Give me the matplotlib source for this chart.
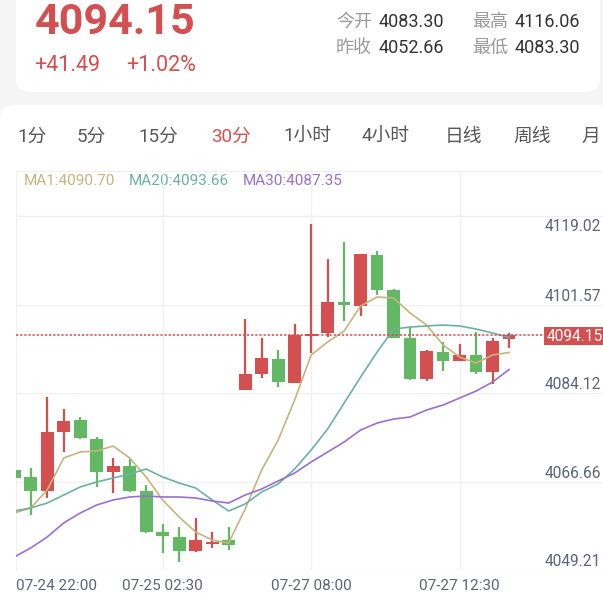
import numpy as np
import matplotlib
matplotlib.use("Agg")
import matplotlib.pyplot as plt
from matplotlib.patches import FancyBboxPatch

plt.rcParams['font.family'] = ['Roboto', 'Noto Sans CJK SC', 'DejaVu Sans']

# 30 minute candles, 07-24 22:00 onwards
opens  = [4067.52, 4066.14, 4063.38, 4075.02, 4077.38, 4073.64, 4067.13, 4068.31, 4063.38, 4055.29,
          4054.31, 4051.55, 4052.93, 4053.72, 4083.30, 4086.46, 4089.42, 4084.68, 4093.95, 4094.54,
          4100.66, 4099.87, 4109.93, 4103.03, 4093.56, 4085.47, 4090.80, 4089.02, 4090.21, 4086.85,
          4093.36]
closes = [4065.94, 4063.38, 4075.02, 4077.19, 4073.83, 4067.13, 4068.31, 4063.38, 4055.29, 4054.50,
          4051.55, 4053.72, 4053.32, 4052.66, 4086.46, 4089.61, 4084.88, 4094.15, 4094.35, 4100.66,
          4100.07, 4110.13, 4103.03, 4093.56, 4085.47, 4090.99, 4089.02, 4090.21, 4086.85, 4092.97,
          4094.15]
highs  = [4067.92, 4067.92, 4081.92, 4079.55, 4077.98, 4074.03, 4069.89, 4069.69, 4064.56, 4056.87,
          4056.28, 4058.06, 4055.29, 4056.28, 4097.31, 4093.56, 4091.19, 4096.32, 4116.06, 4109.14,
          4112.49, 4110.13, 4110.72, 4103.22, 4095.73, 4091.19, 4092.77, 4092.37, 4094.74, 4093.56,
          4094.54]
lows   = [4065.20, 4058.65, 4062.00, 4071.07, 4073.64, 4064.17, 4062.99, 4063.18, 4055.10, 4051.15,
          4049.38, 4051.35, 4052.14, 4051.74, 4083.30, 4085.67, 4083.89, 4084.68, 4090.60, 4093.76,
          4096.91, 4097.90, 4102.04, 4093.56, 4085.27, 4085.08, 4087.05, 4089.02, 4086.46, 4084.49,
          4091.59]

ma1  = [4059.04, 4060.03, 4063.58, 4069.89, 4071.07, 4071.27, 4072.26, 4069.89, 4066.14, 4061.61,
        4058.25, 4055.29, 4053.72, 4053.12, 4059.83, 4067.52, 4073.44, 4081.33, 4090.21, 4092.77,
        4094.94, 4099.87, 4101.65, 4101.45, 4098.49, 4096.12, 4092.18, 4089.81, 4088.63, 4090.21,
        4090.70]
ma20 = [4059.44, 4060.03, 4061.01, 4062.59, 4064.17, 4065.16, 4065.94, 4066.73, 4067.72, 4066.14,
        4064.96, 4063.97, 4061.61, 4059.44, 4060.82, 4063.18, 4064.76, 4067.72, 4071.47, 4075.61,
        4080.74, 4085.87, 4090.80, 4095.33, 4095.73, 4095.93, 4096.12, 4095.93, 4095.33, 4094.54,
        4093.66]
ma30 = [4050.36, 4052.14, 4054.31, 4057.07, 4059.04, 4060.62, 4061.61, 4062.20, 4062.39, 4062.20,
        4062.20, 4062.00, 4061.41, 4061.01, 4062.59, 4063.78, 4065.35, 4066.93, 4069.10, 4071.07,
        4073.05, 4075.41, 4076.79, 4077.58, 4077.98, 4079.36, 4080.34, 4081.72, 4083.10, 4084.88,
        4087.35]

y_labels = ['4119.02', '4101.57', '4084.12', '4066.66', '4049.21']
x_label_idx = [0, 9, 18, 27]
x_labels = ['07-24 22:00', '07-25 02:30', '07-27 08:00', '07-27 12:30']
tabs = ['1分', '5分', '15分', '30分', '1小时', '4小时', '日线', '周线', '月']
tab_x = [17, 77, 138, 211, 283, 362, 445, 513, 581]
last_price = 4094.15

RED = '#d44f4f'
GREEN = '#63b863'
C_MA1, C_MA20, C_MA30 = '#c8b37d', '#6bb2a4', '#9b6fd2'
AXC = '#5b6479'
GRID = '#f0f0f0'

fig = plt.figure(figsize=(6.03, 5.94), dpi=100)
fig.patch.set_facecolor('#f5f5f5')

# background / header in pixel coordinates
bg = fig.add_axes([0, 0, 1, 1])
bg.set_xlim(0, 603)
bg.set_ylim(594, 0)
bg.axis('off')
bg.add_patch(FancyBboxPatch((16, -40), 584, 132, boxstyle='round,pad=0,rounding_size=14',
                            fc='white', ec='none'))
bg.add_patch(FancyBboxPatch((0, 105), 660, 560, boxstyle='round,pad=0,rounding_size=14',
                            fc='white', ec='none'))

bg.text(35, 34, '4094.15', color=RED, fontsize=31, fontweight='bold', va='baseline')
bg.text(34, 71, '+41.49', color=RED, fontsize=15.5, va='baseline')
bg.text(126, 71, '+1.02%', color=RED, fontsize=15.5, va='baseline')
for lab, val, x, y in [('今开', '4083.30', 336, 27), ('最高', '4116.06', 472, 27),
                       ('昨收', '4052.66', 336, 53), ('最低', '4083.30', 472, 53)]:
    bg.text(x, y, lab, color='#9a9a9a', fontsize=13, va='baseline')
    bg.text(x + 43, y, val, color='#333333', fontsize=13, va='baseline')

for t, x in zip(tabs, tab_x):
    bg.text(x, 142, t, color=RED if t == '30分' else '#585858', fontsize=13.5, va='baseline')

bg.text(24, 185, 'MA1:4090.70', color=C_MA1, fontsize=11, va='baseline')
bg.text(129, 185, 'MA20:4093.66', color=C_MA20, fontsize=11, va='baseline')
bg.text(243, 185, 'MA30:4087.35', color=C_MA30, fontsize=11, va='baseline')

# chart
ax = fig.add_axes([16 / 603, 24 / 594, 587 / 603, 399 / 594])
ax.set_facecolor('none')
ax.set_xlim(0.11, 35.69)
ax.set_ylim(4047.80, 4126.50)
for s in ['right', 'bottom']:
    ax.spines[s].set_visible(False)
for s in ['left', 'top']:
    ax.spines[s].set_color(GRID)
ax.set_xticks([])
ax.set_yticks([])

grid_y = np.linspace(4117.62, 4047.80, 5)
for gy in grid_y:
    ax.axhline(gy, color=GRID, lw=1, zorder=0)
for i in x_label_idx[1:]:
    ax.axvline(i, color=GRID, lw=1, zorder=0)

x = np.arange(len(opens))
o = np.array(opens)
c = np.array(closes)
cols = [RED if cc >= oo else GREEN for oo, cc in zip(o, c)]
ax.vlines(x, lows, highs, colors=cols, lw=1.6, zorder=2)
ax.bar(x, np.maximum(np.abs(c - o), 0.35), bottom=np.minimum(o, c), width=0.77,
       color=cols, edgecolor='none', zorder=3)

ax.plot(x, ma1, color=C_MA1, lw=1.2, zorder=4)
ax.plot(x, ma20, color=C_MA20, lw=1.2, zorder=4)
ax.plot(x, ma30, color=C_MA30, lw=1.2, zorder=4)

ax.axhline(last_price, xmax=0.901, color=RED, lw=1.1, linestyle=(0, (1.5, 1.2)), zorder=5)

for k, (gy, lab) in enumerate(zip(grid_y, y_labels)):
    if k == 0:
        ax.annotate(lab, xy=(0.9, gy), xycoords=('axes fraction', 'data'), xytext=(0, -3),
                    textcoords='offset pixels', va='top', ha='left', color=AXC, fontsize=11.2)
    else:
        ax.annotate(lab, xy=(0.9, gy), xycoords=('axes fraction', 'data'), xytext=(0, 4),
                    textcoords='offset pixels', va='baseline', ha='left', color=AXC, fontsize=11.2)

ax.annotate('4094.15', xy=(0.9, last_price), xycoords=('axes fraction', 'data'),
            xytext=(2, -1), textcoords='offset pixels', va='center', ha='left', color='white',
            fontsize=11.2, bbox=dict(boxstyle='square,pad=0.12', fc=RED, ec='none'), zorder=6)

for i, lab in zip(x_label_idx, x_labels):
    if i == 0:
        ax.annotate(lab, xy=(0, 0), xycoords='axes fraction', xytext=(0, -20),
                    textcoords='offset pixels', va='baseline', ha='left', color=AXC, fontsize=11,
                    annotation_clip=False)
    else:
        ax.annotate(lab, xy=(i, 0), xycoords=('data', 'axes fraction'), xytext=(0, -20),
                    textcoords='offset pixels', va='baseline', ha='center', color=AXC, fontsize=11,
                    annotation_clip=False)

fig.savefig('out.png', dpi=100, facecolor=fig.get_facecolor())
